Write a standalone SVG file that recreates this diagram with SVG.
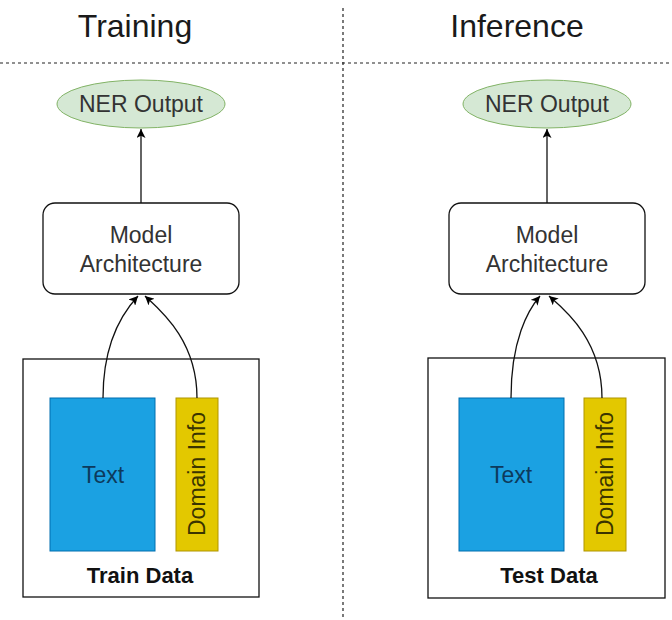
<svg xmlns="http://www.w3.org/2000/svg" width="672" height="620" viewBox="0 0 672 620">
<style>
text{font-family:"Liberation Sans",Arial,sans-serif}
.title{font-size:32px;fill:#1a1a1a;text-anchor:middle}
.lbl{font-size:23px;fill:#333333;text-anchor:middle}
.dash{stroke:#222;stroke-width:1.2;stroke-dasharray:3 3;fill:none}
.ell{fill:#d5e8d4;stroke:#82b366;stroke-width:1}
.box{fill:#fff;stroke:#111;stroke-width:1.3}
.blue{fill:#1ba1e2;stroke:#006eaf;stroke-width:1}
.yel{fill:#e3c800;stroke:#b09500;stroke-width:1}
.tx{font-size:23px;fill:#0d3a5c;text-anchor:middle}
.dom{font-size:23px;fill:#3a3400;text-anchor:middle}
.bold{font-size:22px;font-weight:bold;fill:#111;text-anchor:middle}
.edge{fill:none;stroke:#111;stroke-width:1.3}
</style>
<defs>
<marker id="arr" viewBox="0 0 10 10" refX="10" refY="5" markerWidth="10" markerHeight="9" markerUnits="userSpaceOnUse" orient="auto">
<path d="M0,0 L10,5 L0,10 L2.5,5 Z" fill="#000"/>
</marker>
</defs>
<g id="dividers">
<line class="dash" x1="0" y1="63" x2="672" y2="63"/>
<line class="dash" x1="343" y1="8" x2="343" y2="620"/>
</g>
<g id="title-training"><text class="title" x="135" y="37">Training</text></g>
<g id="title-inference"><text class="title" x="517" y="37">Inference</text></g>

<g id="ner-train">
<ellipse class="ell" cx="141" cy="104" rx="84" ry="24"/>
<text class="lbl" x="141" y="112">NER Output</text>
</g>
<g id="model-train">
<rect class="box" x="43" y="203" width="196" height="91" rx="12"/>
<text class="lbl" x="141" y="243">Model</text>
<text class="lbl" x="141" y="272">Architecture</text>
</g>
<g id="data-train">
<rect class="box" x="23" y="359" width="236" height="238"/>
<text class="bold" x="140" y="583">Train Data</text>
</g>
<g id="text-train">
<rect class="blue" x="50" y="398" width="105" height="153"/>
<text class="tx" x="103" y="483">Text</text>
</g>
<g id="domain-train">
<rect class="yel" x="176" y="398" width="42" height="153"/>
<text class="dom" transform="translate(205,474) rotate(-90)">Domain Info</text>
</g>

<g id="ner-infer">
<ellipse class="ell" cx="547" cy="104" rx="84" ry="24"/>
<text class="lbl" x="547" y="112">NER Output</text>
</g>
<g id="model-infer">
<rect class="box" x="449" y="203" width="196" height="91" rx="12"/>
<text class="lbl" x="547" y="243">Model</text>
<text class="lbl" x="547" y="272">Architecture</text>
</g>
<g id="data-infer">
<rect class="box" x="428" y="358" width="237" height="240"/>
<text class="bold" x="549" y="583">Test Data</text>
</g>
<g id="text-infer">
<rect class="blue" x="459" y="398" width="105" height="153"/>
<text class="tx" x="511" y="483">Text</text>
</g>
<g id="domain-infer">
<rect class="yel" x="584" y="398" width="42" height="153"/>
<text class="dom" transform="translate(613,474) rotate(-90)">Domain Info</text>
</g>

<g id="connectors">
<line class="edge" x1="141" y1="203" x2="141" y2="129" marker-end="url(#arr)"/>
<line class="edge" x1="547" y1="203" x2="547" y2="129" marker-end="url(#arr)"/>
<path class="edge" d="M103,398 C103,340 125,310 138,296" marker-end="url(#arr)"/>
<path class="edge" d="M197,398 C197,340 160,310 145,296" marker-end="url(#arr)"/>
<path class="edge" d="M511,398 C511,340 528,310 540,296" marker-end="url(#arr)"/>
<path class="edge" d="M602,398 C602,340 565,310 549,296" marker-end="url(#arr)"/>
</g>
</svg>
